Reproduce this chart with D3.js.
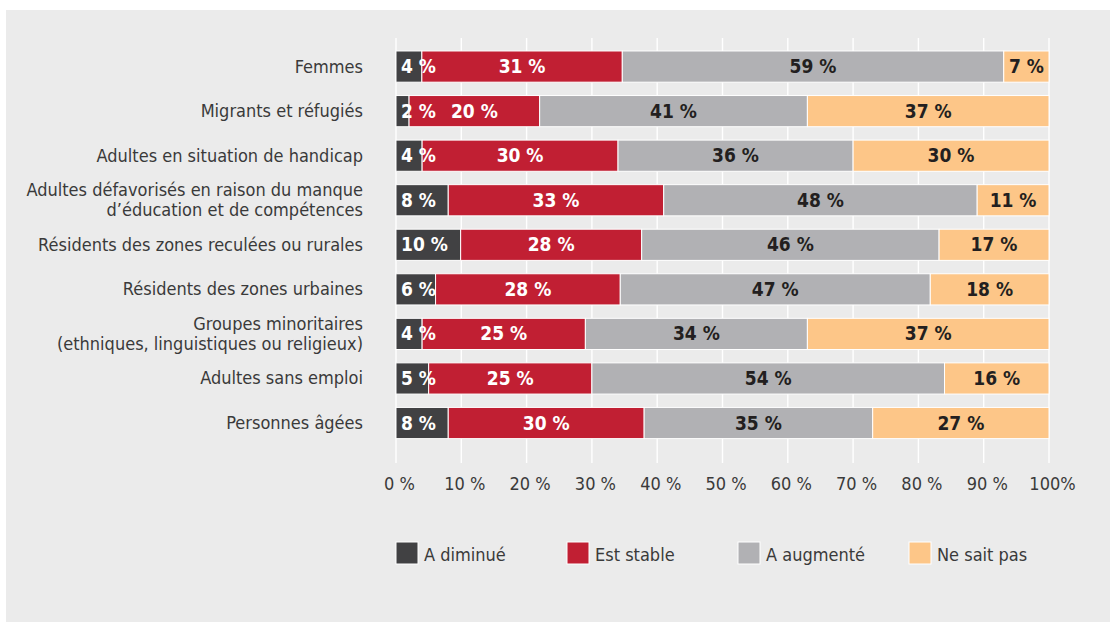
<!DOCTYPE html>
<html>
<head>
<meta charset="utf-8">
<script src="https://cdn.jsdelivr.net/npm/d3@7"></script>
<style>
  html, body { margin: 0; padding: 0; background: #ffffff; }
  svg { display: block; }
  text { font-family: "Liberation Sans Narrow", "DejaVu Sans Condensed", "Roboto Condensed", sans-serif; }
</style>
</head>
<body>
<svg id="chart" width="1110" height="622"></svg>
<script>
const categories = [
  "Femmes",
  "Migrants et réfugiés",
  "Adultes en situation de handicap",
  "Adultes défavorisés en raison du manque\nd’éducation et de compétences",
  "Résidents des zones reculées ou rurales",
  "Résidents des zones urbaines",
  "Groupes minoritaires\n(ethniques, linguistiques ou religieux)",
  "Adultes sans emploi",
  "Personnes âgées"
];
const seriesNames = ["A diminué", "Est stable", "A augmenté", "Ne sait pas"];
const aDiminue   = [4, 2, 4, 8, 10, 6, 4, 5, 8];
const estStable  = [31, 20, 30, 33, 28, 28, 25, 25, 30];
const aAugmente  = [59, 41, 36, 48, 46, 47, 34, 54, 35];
const neSaitPas  = [7, 37, 30, 11, 17, 18, 37, 16, 27];
const tickValues = [0, 0.1, 0.2, 0.3, 0.4, 0.5, 0.6, 0.7, 0.8, 0.9, 1];
const tickLabels = ["0 %", "10 %", "20 %", "30 %", "40 %", "50 %", "60 %", "70 %", "80 %", "90 %", "100%"];

const colors = ["#414143", "#c11f33", "#b1b1b4", "#fdc688"];
const labelColors = ["#ffffff", "#ffffff", "#231f20", "#231f20"];

const rows = categories.map((c, i) => ({
  cat: c,
  [seriesNames[0]]: aDiminue[i],
  [seriesNames[1]]: estStable[i],
  [seriesNames[2]]: aAugmente[i],
  [seriesNames[3]]: neSaitPas[i]
}));

const svg = d3.select("#chart");

// panel background
svg.append("rect").attr("x", 6).attr("y", 10).attr("width", 1104).attr("height", 612).attr("fill", "#ebebeb");

const x = d3.scaleLinear().domain([0, 1]).range([396, 1049]);
const y = d3.scaleBand().domain(categories).range([44.3, 445.3]).paddingInner(0.3).paddingOuter(0.15);

// gridlines
svg.append("g").selectAll("line").data(tickValues).join("line")
  .attr("x1", d => x(d)).attr("x2", d => x(d))
  .attr("y1", 38).attr("y2", 463)
  .attr("stroke", "#ffffff").attr("stroke-width", 1.4);

const stack = d3.stack().keys(seriesNames).offset(d3.stackOffsetExpand);
const stacked = stack(rows);

const g = svg.append("g");
stacked.forEach((layer, si) => {
  g.append("g").selectAll("rect").data(layer).join("rect")
    .attr("x", d => x(d[0]))
    .attr("y", d => y(d.data.cat))
    .attr("width", d => x(d[1]) - x(d[0]))
    .attr("height", y.bandwidth())
    .attr("fill", colors[si])
    .attr("stroke", "#ffffff").attr("stroke-width", 1);
});

// value labels
stacked.forEach((layer, si) => {
  g.append("g").selectAll("text").data(layer).join("text")
    .attr("x", d => si === 0 ? x(d[0]) + 5 : (x(d[0]) + x(d[1])) / 2)
    .attr("y", d => y(d.data.cat) + y.bandwidth() / 2 + 6.5)
    .attr("text-anchor", si === 0 ? "start" : "middle")
    .attr("fill", labelColors[si])
    .attr("font-size", 19)
    .attr("font-weight", "bold")
    .text(d => d.data[seriesNames[si]] + " %");
});

// category labels
const yl = svg.append("g");
categories.forEach(c => {
  const lines = c.split("\n");
  const cy = y(c) + y.bandwidth() / 2;
  const t = yl.append("text")
    .attr("text-anchor", "end")
    .attr("fill", "#3a3a3a")
    .attr("font-size", 18);
  lines.forEach((ln, li) => {
    t.append("tspan")
      .attr("x", 363)
      .attr("y", cy + 6 + (li - (lines.length - 1) / 2) * 20)
      .text(ln);
  });
});

// x axis labels
const xAxis = d3.axisBottom(x).tickValues(tickValues).tickFormat((d, i) => tickLabels[i]).tickSize(0).tickPadding(0);
const ax = svg.append("g").attr("transform", "translate(3,477)").call(xAxis);
ax.select(".domain").remove();
ax.selectAll("text").attr("font-size", 18).attr("fill", "#3a3a3a")
  .attr("font-family", "\"Liberation Sans Narrow\", \"DejaVu Sans Condensed\", sans-serif");

// legend
const legend = svg.append("g");
seriesNames.forEach((s, i) => {
  const lx = 396 + i * 171;
  legend.append("rect").attr("x", lx).attr("y", 542).attr("width", 22).attr("height", 22)
    .attr("fill", colors[i]).attr("stroke", "#ffffff").attr("stroke-width", 1);
  legend.append("text").attr("x", lx + 28).attr("y", 561)
    .attr("font-size", 18).attr("fill", "#3a3a3a").text(s);
});
</script>
</body>
</html>
